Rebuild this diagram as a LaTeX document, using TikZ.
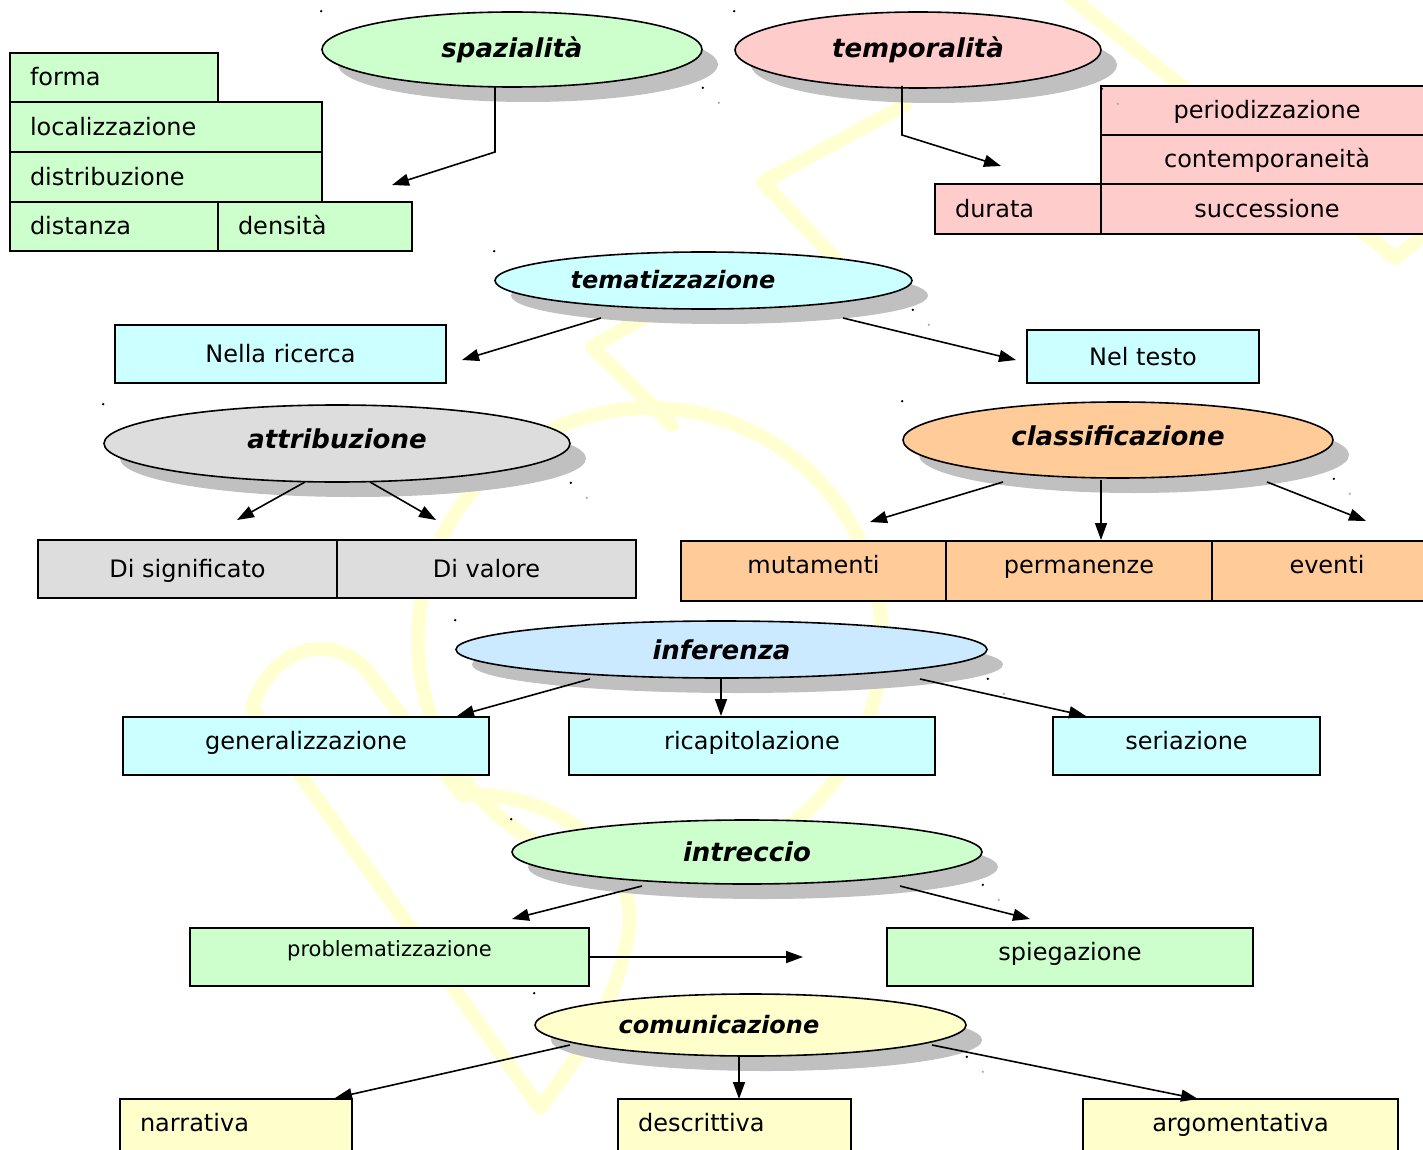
\documentclass[tikz,border=0pt]{standalone}
\usepackage{fontspec}
\setmainfont{DejaVu Sans}
\usetikzlibrary{shapes.geometric,arrows.meta,shadows,calc}
\definecolor{cgreen}{HTML}{CCFFCC}
\definecolor{cpink}{HTML}{FFCCCC}
\definecolor{ccyan}{HTML}{CCFFFF}
\definecolor{cgrey}{HTML}{DDDDDD}
\definecolor{corange}{HTML}{FFCC99}
\definecolor{cblue}{HTML}{CCEAFF}
\definecolor{cyellow}{HTML}{FFFFCC}
\definecolor{shadowgray}{HTML}{C0C0C0}
\definecolor{wmark}{HTML}{FFFFD2}
\begin{document}
\begin{tikzpicture}[x=1pt,y=-1pt,
  every node/.style={font=\fontsize{24}{28}\selectfont},
  cell/.style={draw=black, line width=2pt, rectangle, inner sep=0pt, text height=18pt, text depth=1pt},
  cellL/.style={cell, align=left, inner xsep=20pt},
  ell/.style={ellipse, draw=black, line width=1.6pt, inner sep=0pt,
    font=\fontsize{26}{30}\selectfont\bfseries\itshape,
    general shadow={fill=shadowgray, shadow xshift=16pt, shadow yshift=-15pt}},
  ttl/.style={font=\fontsize{24}{28}\selectfont\bfseries\itshape, inner sep=0pt},
  conn/.style={line width=1.6pt, -{Triangle[length=17pt,width=12pt]}},
]
\useasboundingbox (0,0) rectangle (1423,1150);
\clip (0,0) rectangle (1423,1150);
\fill[white] (0,0) rectangle (1423,1150);

% watermark
\begin{scope}[draw=wmark, line width=14pt, line join=round, line cap=round]
  \draw (540,1108) -- (252,708) .. controls (268,655) and (322,628) .. (365,668) -- (462,795)
        .. controls (560,790) and (642,860) .. (628,935) .. controls (615,1010) and (575,1060) .. (540,1108);
  \draw (650,640) circle[radius=232pt];
  \draw (700,285) -- (592,347) -- (672,425);
  \draw (905,105) -- (763,182) -- (850,275);
  \draw (1062,-10) -- (1395,258) -- (1423,236);
\end{scope}

% spazialita block
\node[cellL, fill=cgreen, text width=168pt, minimum height=49pt] (forma) at (114,77.5) {forma};
\node[cellL, fill=cgreen, text width=272pt, minimum height=50pt] (localiz) at (166,127) {localizzazione};
\node[cellL, fill=cgreen, text width=272pt, minimum height=50pt] (distrib) at (166,177) {distribuzione};
\node[cellL, fill=cgreen, text width=168pt, minimum height=49pt] (distanza) at (114,226.5) {distanza};
\node[cellL, fill=cgreen, text width=154pt, minimum height=49pt] (densita) at (315,226.5) {densità};

% temporalita block
\node[cell, fill=cpink, minimum width=332pt, minimum height=49pt] (period) at (1267,110.5) {periodizzazione};
\node[cell, fill=cpink, minimum width=332pt, minimum height=49pt] (contemp) at (1267,159.5) {contemporaneità};
\node[cell, fill=cpink, minimum width=332pt, minimum height=50pt] (succ) at (1267,209) {successione};
\node[cellL, fill=cpink, text width=126pt, minimum height=50pt] (durata) at (1018,209) {durata};

% ellipses
\node[ell, fill=cgreen, minimum width=380pt, minimum height=75pt] (spaz) at (512,49.5) {spazialità};
\node[ell, fill=cpink, minimum width=366pt, minimum height=76pt] (temp) at (918,50) {temporalità};
\node[ell, fill=ccyan, minimum width=417pt, minimum height=57pt] (temat) at (703.5,280.5) {};
\node[ttl] (tematT) at (673,280) {tematizzazione};
\node[ell, fill=cgrey, minimum width=466pt, minimum height=77pt, text depth=10pt] (attr) at (337,443.5) {attribuzione};
\node[ell, fill=corange, minimum width=430pt, minimum height=76pt, text depth=8pt] (class) at (1118,440) {classificazione};
\node[ell, fill=cblue, minimum width=531pt, minimum height=57pt] (infer) at (721.5,649.5) {inferenza};
\node[ell, fill=cgreen, minimum width=470pt, minimum height=64pt] (intr) at (747,852) {intreccio};
\node[ell, fill=cyellow, minimum width=431pt, minimum height=62pt] (comu) at (750.5,1025) {};
\node[ttl] (comuT) at (719,1025) {comunicazione};

% bbox corner dots
\foreach \n in {spaz,temp,temat,attr,class,infer,intr,comu}{
  \fill[black] (\n.north -| \n.west) circle[radius=1.3pt];
  \fill[black] (\n.south -| \n.east) circle[radius=1.3pt];
  \fill[gray!70] ($(\n.south -| \n.east)+(16,15)$) circle[radius=1.2pt];
}

% tematizzazione boxes
\node[cell, fill=ccyan, minimum width=331pt, minimum height=58pt] (ricerca) at (280.5,354) {Nella ricerca};
\node[cell, fill=ccyan, minimum width=232pt, minimum height=53pt] (testo) at (1143,356.5) {Nel testo};

% attribuzione boxes
\node[cell, fill=cgrey, minimum width=299pt, minimum height=58pt] (signif) at (187.5,569) {Di significato};
\node[cell, fill=cgrey, minimum width=299pt, minimum height=58pt] (valore) at (486.5,569) {Di valore};

% classificazione boxes
\node[cell, fill=corange, text depth=13pt, minimum width=265pt, minimum height=60pt] (mutam) at (813.5,571) {mutamenti};
\node[cell, fill=corange, text depth=13pt, minimum width=266pt, minimum height=60pt] (perman) at (1079,571) {permanenze};
\node[cell, fill=corange, text depth=13pt, minimum width=230pt, minimum height=60pt] (eventi) at (1327,571) {eventi};

% inferenza boxes
\node[cell, fill=ccyan, text depth=11pt, minimum width=366pt, minimum height=58pt] (general) at (306,746) {generalizzazione};
\node[cell, fill=ccyan, text depth=11pt, minimum width=366pt, minimum height=58pt] (ricap) at (752,746) {ricapitolazione};
\node[cell, fill=ccyan, text depth=11pt, minimum width=267pt, minimum height=58pt] (seriaz) at (1186.5,746) {seriazione};

% intreccio boxes
\node[cell, fill=cgreen, font=\fontsize{21}{25}\selectfont, text depth=19pt, minimum width=399pt, minimum height=58pt] (probl) at (389.5,957) {problematizzazione};
\node[cell, fill=cgreen, text depth=11pt, minimum width=366pt, minimum height=58pt] (spieg) at (1070,957) {spiegazione};

% comunicazione boxes
\node[cellL, fill=cyellow, text depth=14pt, text width=192pt, minimum height=61pt] (narr) at (236,1129.5) {narrativa};
\node[cellL, fill=cyellow, text depth=14pt, text width=193pt, minimum height=61pt] (descr) at (734.5,1129.5) {descrittiva};
\node[cell, fill=cyellow, text depth=14pt, minimum width=315pt, minimum height=61pt] (argom) at (1240.5,1129.5) {argomentativa};

% connectors
\coordinate (sA) at (495,87); \coordinate (sB) at (495,152); \coordinate (sT) at (392,185);
\draw[conn] (sA) -- (sB) -- (sT);
\coordinate (tA) at (902,86); \coordinate (tB) at (902,135); \coordinate (tT) at (1001,166);
\draw[conn] (tA) -- (tB) -- (tT);

\coordinate (m1) at (601,318); \coordinate (m1t) at (462,360);
\coordinate (m2) at (843,318); \coordinate (m2t) at (1016,360);
\draw[conn] (m1) -- (m1t);
\draw[conn] (m2) -- (m2t);

\coordinate (a1) at (305,482); \coordinate (a1t) at (237,520);
\coordinate (a2) at (370,482); \coordinate (a2t) at (436,520);
\draw[conn] (a1) -- (a1t);
\draw[conn] (a2) -- (a2t);

\coordinate (c1) at (1003,482); \coordinate (c1t) at (870,522);
\coordinate (c2) at (1101,480); \coordinate (c2t) at (1101,540);
\coordinate (c3) at (1267,482); \coordinate (c3t) at (1366,521);
\draw[conn] (c1) -- (c1t);
\draw[conn] (c2) -- (c2t);
\draw[conn] (c3) -- (c3t);

\coordinate (i1) at (590,679); \coordinate (i1t) at (457,716);
\coordinate (i2) at (721,679); \coordinate (i2t) at (721,716);
\coordinate (i3) at (920,679); \coordinate (i3t) at (1086,716);
\draw[conn] (i1) -- (i1t);
\draw[conn] (i2) -- (i2t);
\draw[conn] (i3) -- (i3t);

\coordinate (n1) at (642,886); \coordinate (n1t) at (512,919);
\coordinate (n2) at (900,886); \coordinate (n2t) at (1030,919);
\draw[conn] (n1) -- (n1t);
\draw[conn] (n2) -- (n2t);

\coordinate (pT) at (803,957);
\draw[conn] (probl.east) -- (pT);

\coordinate (k1) at (570,1045); \coordinate (k1t) at (335,1098);
\coordinate (k2) at (739,1056); \coordinate (k2t) at (739,1099);
\coordinate (k3) at (932,1045); \coordinate (k3t) at (1198,1099);
\draw[conn] (k1) -- (k1t);
\draw[conn] (k2) -- (k2t);
\draw[conn] (k3) -- (k3t);
\end{tikzpicture}
\end{document}
